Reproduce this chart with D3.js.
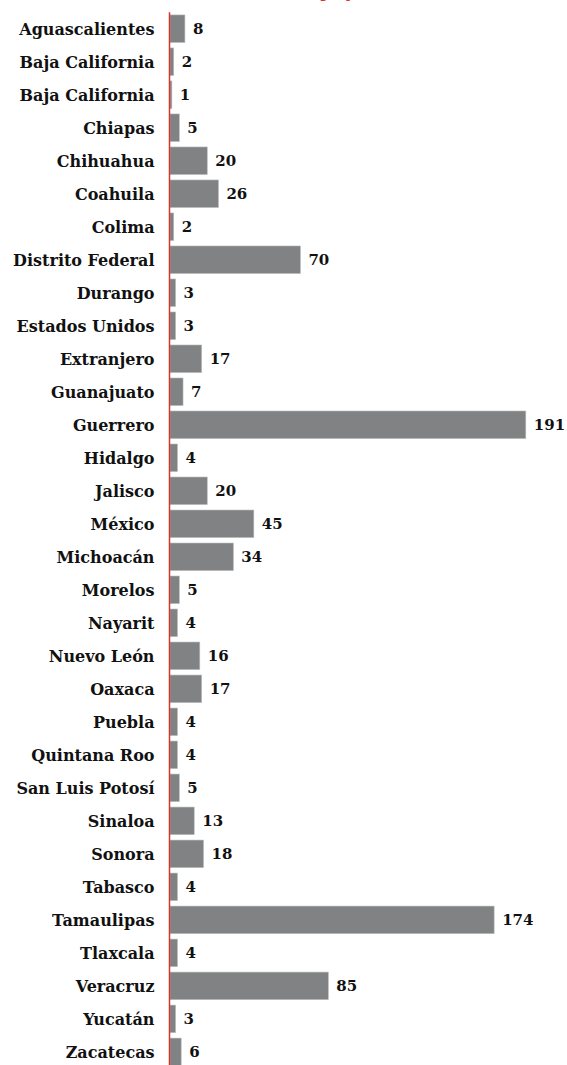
<!DOCTYPE html>
<html>
<head>
<meta charset="utf-8">
<script src="https://cdn.jsdelivr.net/npm/d3@7/dist/d3.min.js"></script>
<style>
  html, body { margin: 0; padding: 0; background: #ffffff; }
  svg { display: block; }
</style>
</head>
<body>
<div id="chart"></div>
<script>
// Casos por entidad de origen
const categories = [
  "Aguascalientes", "Baja California", "Baja California", "Chiapas", "Chihuahua",
  "Coahuila", "Colima", "Distrito Federal", "Durango", "Estados Unidos",
  "Extranjero", "Guanajuato", "Guerrero", "Hidalgo", "Jalisco", "México",
  "Michoacán", "Morelos", "Nayarit", "Nuevo León", "Oaxaca", "Puebla",
  "Quintana Roo", "San Luis Potosí", "Sinaloa", "Sonora", "Tabasco",
  "Tamaulipas", "Tlaxcala", "Veracruz", "Yucatán", "Zacatecas"
];
const values = [
  8, 2, 1, 5, 20, 26, 2, 70, 3, 3, 17, 7, 191, 4, 20, 45,
  34, 5, 4, 16, 17, 4, 4, 5, 13, 18, 4, 174, 4, 85, 3, 6
];
const titleText = "Casos de trabajo y residencia";

const W = 567, H = 1065;
const rows = categories.map((c, i) => ({ i, name: c, value: values[i] }));

const svg = d3.select("#chart").append("svg")
  .attr("width", W).attr("height", H);

const x = d3.scaleLinear().domain([0, 191]).range([170, 525.8]);
const y = d3.scaleBand()
  .domain(rows.map(d => d.i))
  .range([12.3, 12.3 + 33 * rows.length])
  .paddingInner(0.165)
  .paddingOuter(0.08);

const font = "'DejaVu Serif', serif";

// title, mostly above the visible area
const title = svg.append("text")
  .attr("y", -3)
  .attr("font-family", font)
  .attr("font-weight", "bold")
  .attr("font-size", 17)
  .attr("fill", "#e0301e")
  .text(titleText);
const jIdx = titleText.indexOf("j");
const jStart = title.node().getStartPositionOfChar(jIdx).x;
title.attr("x", 322 - jStart);

// bars
svg.append("g").selectAll("rect")
  .data(rows)
  .join("rect")
  .attr("x", x(0))
  .attr("y", d => y(d.i))
  .attr("width", d => x(d.value) - x(0))
  .attr("height", y.bandwidth())
  .attr("fill", "#808283")
  .attr("stroke", "#b9bbbc")
  .attr("stroke-width", 0.6);

// category labels
const yAxis = d3.axisLeft(y)
  .tickFormat(i => categories[i])
  .tickSize(0)
  .tickPadding(15);
const gAxis = svg.append("g")
  .attr("transform", `translate(${x(0) - 0.5},0)`)
  .call(yAxis);
gAxis.select(".domain").remove();
gAxis.selectAll("text")
  .attr("font-family", font)
  .attr("font-weight", "bold")
  .attr("font-size", 16)
  .attr("fill", "#111")
  .attr("dy", "0.37em");

// value labels
svg.append("g").selectAll("text")
  .data(rows)
  .join("text")
  .attr("x", d => x(d.value) + 8)
  .attr("y", d => y(d.i) + y.bandwidth() / 2)
  .attr("dy", "0.37em")
  .attr("font-family", font)
  .attr("font-weight", "bold")
  .attr("font-size", 15)
  .attr("fill", "#111")
  .text(d => d.value);

// red baseline
svg.append("line")
  .attr("x1", x(0) - 0.5).attr("x2", x(0) - 0.5)
  .attr("y1", 12.3).attr("y2", H)
  .attr("stroke", "#d9342b")
  .attr("stroke-width", 1.5);
</script>
</body>
</html>
